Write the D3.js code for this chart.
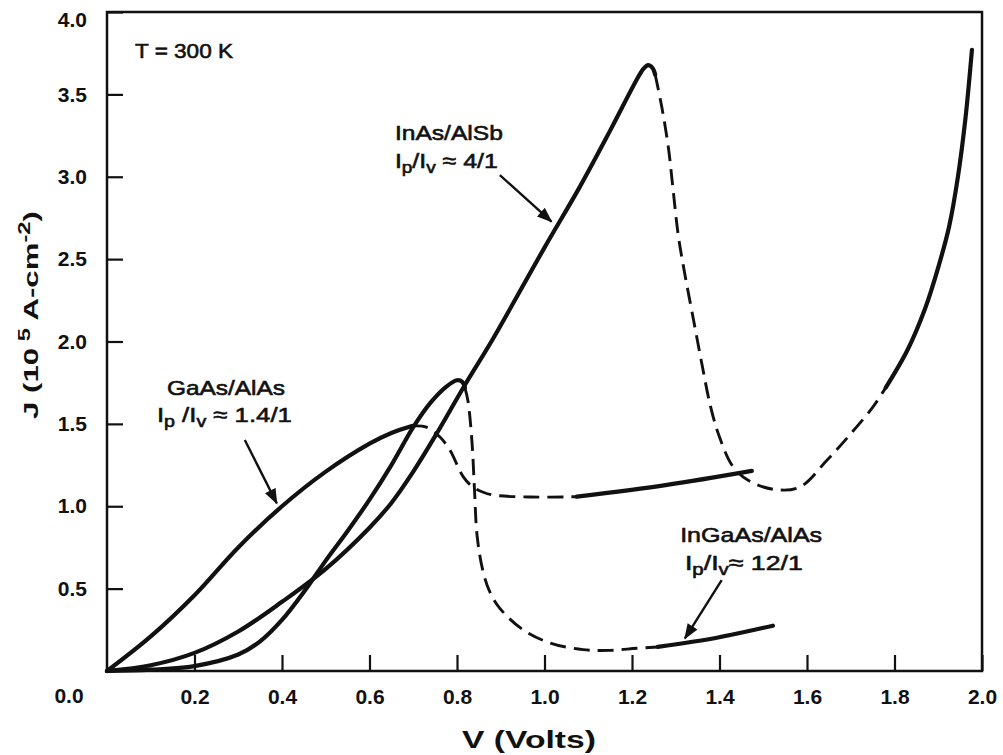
<!DOCTYPE html>
<html>
<head>
<meta charset="utf-8">
<script src="https://cdn.jsdelivr.net/npm/d3@7"></script>
<style>
  body { margin: 0; background: #fff; }
  text { font-family: "Liberation Sans", Arial, sans-serif; fill: #111; }
</style>
</head>
<body>
<div id="chart"></div>
<script>
// Tick values for both axes
const xTicks = [0.2, 0.4, 0.6, 0.8, 1.0, 1.2, 1.4, 1.6, 1.8, 2.0];
const yTicks = [0.5, 1.0, 1.5, 2.0, 2.5, 3.0, 3.5, 4.0];

// GaAs/AlAs curve, [V, J] pairs. Solid = measured, dashed = unstable region.
const gaasSolid = [[0, 0], [0.1, 0.21], [0.2, 0.46], [0.3, 0.75], [0.4, 1.0],
  [0.5, 1.21], [0.6, 1.38], [0.65, 1.445], [0.697, 1.487]];
const gaasDashed = [[0.697, 1.487], [0.73, 1.48], [0.761, 1.42], [0.784, 1.34],
  [0.814, 1.18], [0.835, 1.12], [0.86, 1.085], [0.883, 1.068], [0.967, 1.056], [1.074, 1.058]];
const gaasTail = [[1.074, 1.058], [1.28, 1.13], [1.474, 1.215]];

// InGaAs/AlAs curve
const ingaasSolid = [[0, 0], [0.1, 0.008], [0.2, 0.03], [0.3, 0.10], [0.35, 0.18],
  [0.4, 0.31], [0.45, 0.48], [0.5, 0.67], [0.55, 0.85], [0.6, 1.04], [0.65, 1.25],
  [0.7, 1.48], [0.74, 1.63], [0.775, 1.725], [0.80, 1.765], [0.812, 1.755], [0.818, 1.72]];
const ingaasDashed = [[0.818, 1.72], [0.825, 1.64], [0.834, 1.40], [0.840, 1.10],
  [0.846, 0.82], [0.859, 0.61], [0.875, 0.48], [0.898, 0.38], [0.951, 0.25],
  [1.013, 0.17], [1.088, 0.13], [1.15, 0.125], [1.211, 0.138], [1.259, 0.146]];
const ingaasTail = [[1.259, 0.146], [1.394, 0.202], [1.522, 0.275]];

// InAs/AlSb curve
const inasSolid = [[0, 0], [0.1, 0.035], [0.2, 0.11], [0.3, 0.24], [0.4, 0.42],
  [0.5, 0.62], [0.6, 0.87], [0.65, 1.02], [0.7, 1.21], [0.754, 1.443], [0.818, 1.736],
  [0.883, 2.02], [1.0, 2.57], [1.081, 2.94], [1.15, 3.28], [1.211, 3.59], [1.226, 3.655],
  [1.237, 3.678], [1.247, 3.66], [1.253, 3.62]];
const inasDashed = [[1.253, 3.62], [1.268, 3.425], [1.283, 3.18], [1.294, 2.92],
  [1.306, 2.64], [1.32, 2.42], [1.34, 2.14], [1.36, 1.86], [1.38, 1.60], [1.40, 1.42],
  [1.431, 1.24], [1.47, 1.15], [1.531, 1.10], [1.584, 1.117], [1.646, 1.28],
  [1.70, 1.44], [1.75, 1.60], [1.78, 1.72]];
const inasTail = [[1.78, 1.72], [1.83, 1.95], [1.87, 2.2], [1.90, 2.45], [1.925, 2.7],
  [1.945, 3.0], [1.962, 3.35], [1.977, 3.77]];

// Annotation arrows: [fromV, fromJ, toV, toJ]
const arrows = [
  [0.898, 3.01, 1.016, 2.727],
  [0.315, 1.402, 0.388, 1.018],
  [1.405, 0.552, 1.321, 0.198],
];

const width = 1003;
const height = 755;

const x = d3.scaleLinear().domain([0, 2]).range([107, 982]);
const y = d3.scaleLinear().domain([0, 4]).range([671, 12]);

const svg = d3.select('#chart')
  .append('svg')
  .attr('width', width)
  .attr('height', height);

svg.append('defs')
  .append('marker')
  .attr('id', 'head')
  .attr('viewBox', '0 -5 12 10')
  .attr('refX', 11)
  .attr('refY', 0)
  .attr('markerUnits', 'userSpaceOnUse')
  .attr('markerWidth', 16)
  .attr('markerHeight', 13)
  .attr('orient', 'auto')
  .append('path')
  .attr('d', 'M0,-4.5L12,0L0,4.5Z')
  .attr('fill', '#111');

// frame
svg.append('rect')
  .attr('x', x(0)).attr('y', y(4))
  .attr('width', x(2) - x(0)).attr('height', y(0) - y(4))
  .attr('fill', 'none')
  .attr('stroke', '#111')
  .attr('stroke-width', 2.5);

// axes, ticks pointing inwards
const xAxis = svg.append('g')
  .attr('transform', `translate(0,${y(0)})`)
  .call(d3.axisBottom(x).tickValues(xTicks).tickFormat(d3.format('.1f'))
    .tickSize(-16).tickPadding(18));
const yAxis = svg.append('g')
  .attr('transform', `translate(${x(0)},0)`)
  .call(d3.axisLeft(y).tickValues(yTicks).tickFormat(d3.format('.1f'))
    .tickSize(-16).tickPadding(20));

[xAxis, yAxis].forEach(g => {
  g.select('.domain').remove();
  g.selectAll('.tick line').attr('stroke', '#111').attr('stroke-width', 2.2);
  g.selectAll('.tick text')
    .attr('font-family', '"Liberation Sans", Arial, sans-serif')
    .attr('font-size', 21)
    .attr('font-weight', 'bold')
    .attr('fill', '#111');
});
yAxis.selectAll('.tick text').filter(d => d === 4.0).attr('dy', '0.7em');

// shared origin label
svg.append('text')
  .attr('x', x(0) - 38).attr('y', y(0) + 32)
  .attr('text-anchor', 'middle')
  .attr('font-size', 21).attr('font-weight', 'bold')
  .text('0.0');

// axis titles
svg.append('text')
  .attr('x', 529).attr('y', 748)
  .attr('text-anchor', 'middle')
  .attr('font-size', 23).attr('font-weight', 'bold')
  .attr('textLength', 134).attr('lengthAdjust', 'spacingAndGlyphs')
  .text('V (Volts)');

const yTitle = svg.append('text')
  .attr('transform', 'translate(38,315) rotate(-90)')
  .attr('text-anchor', 'middle')
  .attr('font-size', 21).attr('font-weight', 'bold')
  .attr('textLength', 208).attr('lengthAdjust', 'spacingAndGlyphs');
yTitle.append('tspan').text('J (10');
yTitle.append('tspan').attr('dy', -8).attr('font-size', 16).text(' 5');
yTitle.append('tspan').attr('dy', 8).text(' A-cm');
yTitle.append('tspan').attr('dy', -8).attr('font-size', 16).text('-2');
yTitle.append('tspan').attr('dy', 8).text(')');

// curves
const line = d3.line()
  .x(d => x(d[0]))
  .y(d => y(d[1]))
  .curve(d3.curveCatmullRom.alpha(0.5));

function drawCurve(points, dashed) {
  svg.append('path')
    .datum(points)
    .attr('d', line)
    .attr('fill', 'none')
    .attr('stroke', '#111')
    .attr('stroke-width', dashed ? 2.9 : 4.2)
    .attr('stroke-linecap', dashed ? 'butt' : 'round')
    .attr('stroke-dasharray', dashed ? '16,8' : null);
}

drawCurve(gaasSolid, false);
drawCurve(gaasDashed, true);
drawCurve(gaasTail, false);
drawCurve(ingaasSolid, false);
drawCurve(ingaasDashed, true);
drawCurve(ingaasTail, false);
drawCurve(inasSolid, false);
drawCurve(inasDashed, true);
drawCurve(inasTail, false);

// arrows
svg.append('g')
  .selectAll('line')
  .data(arrows)
  .enter()
  .append('line')
  .attr('x1', d => x(d[0])).attr('y1', d => y(d[1]))
  .attr('x2', d => x(d[2])).attr('y2', d => y(d[3]))
  .attr('stroke', '#111')
  .attr('stroke-width', 2.4)
  .attr('marker-end', 'url(#head)');

// labels: name on the first line, peak-to-valley ratio on the second
function label(v, j, len, parts) {
  const t = svg.append('text')
    .attr('x', x(v)).attr('y', y(j))
    .attr('font-size', 21)
    .attr('stroke', '#111')
    .attr('stroke-width', 0.6)
    .attr('textLength', len)
    .attr('lengthAdjust', 'spacingAndGlyphs');
  parts.forEach(p => {
    t.append('tspan')
      .attr('dy', p.sub ? 5 : (p.after ? -5 : 0))
      .attr('font-size', p.sub ? 16 : 21)
      .text(p.s);
  });
}

function ratio(a, b, tail) {
  return [{s: 'I'}, {s: 'p', sub: true}, {s: a, after: true}, {s: 'v', sub: true},
    {s: tail, after: true}];
}

label(0.064, 3.721, 98, [{s: 'T = 300 K'}]);
label(0.658, 3.223, 108, [{s: 'InAs/AlSb'}]);
label(0.658, 3.053, 103, ratio('/I', 'v', ' ≈ 4/1'));
label(0.137, 1.675, 118, [{s: 'GaAs/AlAs'}]);
label(0.114, 1.511, 135, ratio(' /I', 'v', ' ≈ 1.4/1'));
label(1.310, 0.783, 142, [{s: 'InGaAs/AlAs'}]);
label(1.321, 0.613, 118, ratio('/I', 'v', '≈ 12/1'));
</script>
</body>
</html>
